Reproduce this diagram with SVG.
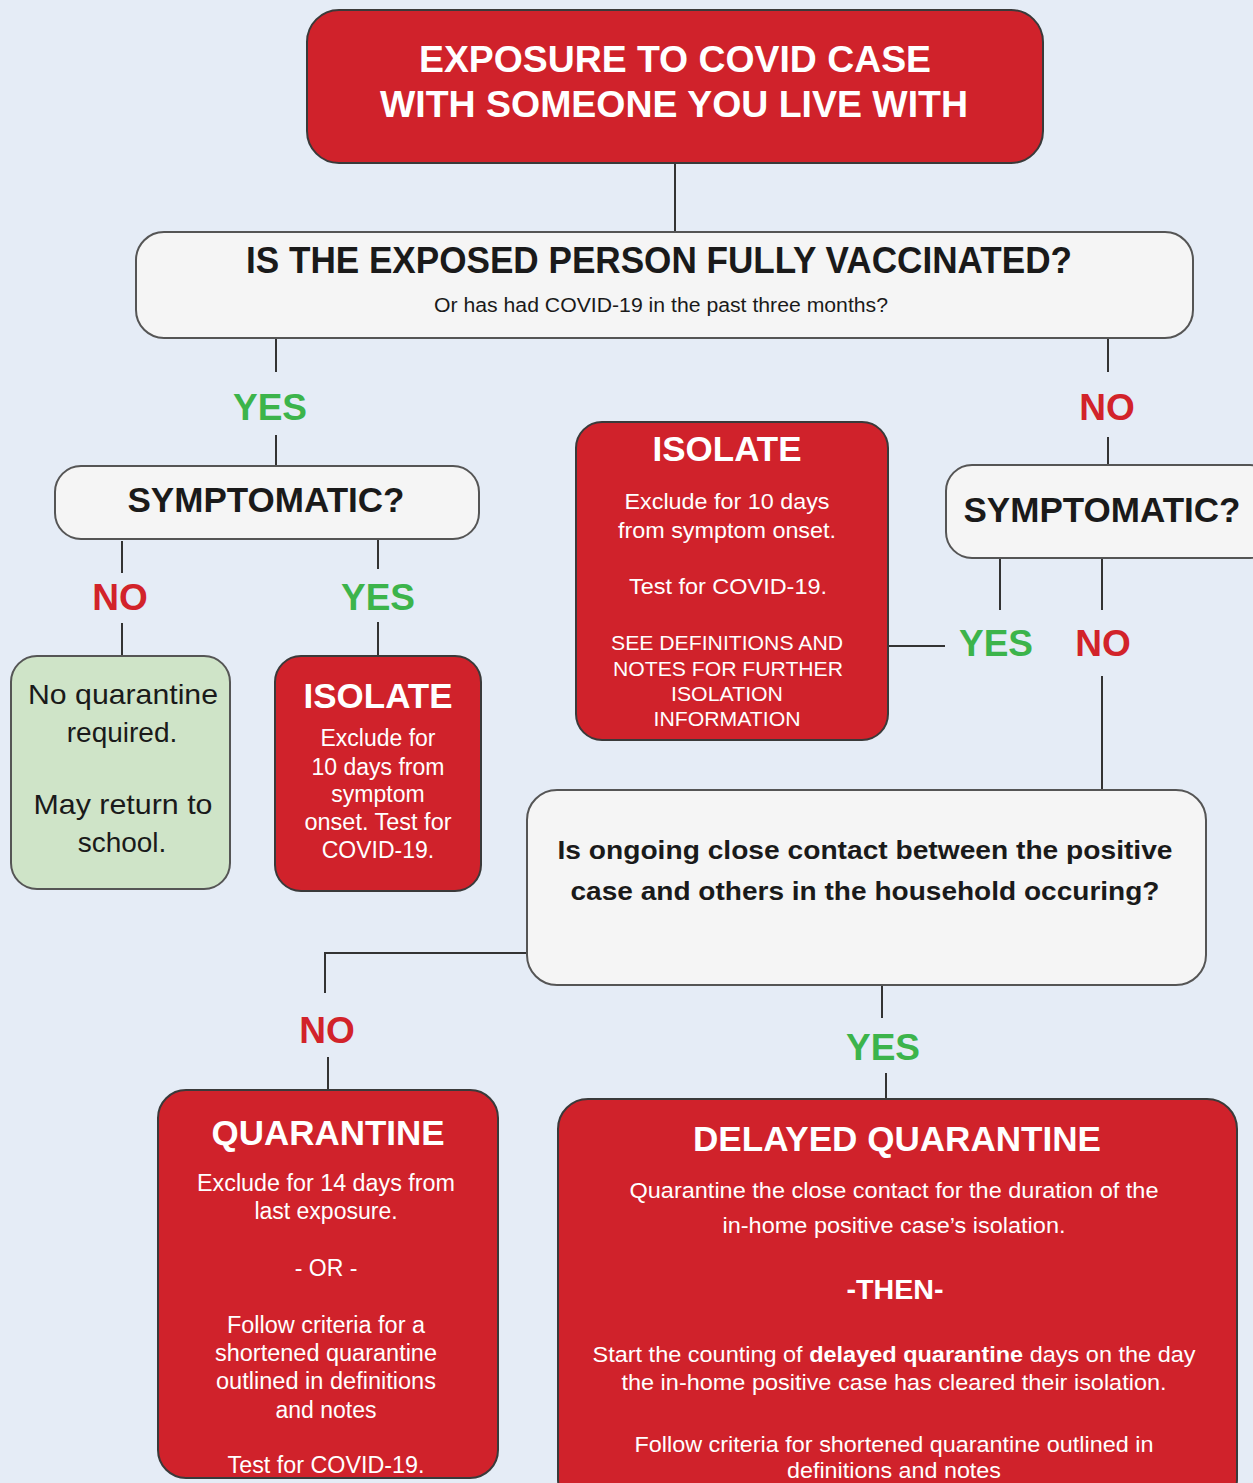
<svg xmlns="http://www.w3.org/2000/svg" width="1253" height="1483" viewBox="0 0 1253 1483">
<defs>
<style>
.red{fill:#d0222b;stroke:#3a3a3a;stroke-width:2}
.wbox{fill:#f5f5f5;stroke:#555;stroke-width:2}
.gbox{fill:#cfe4c8;stroke:#555;stroke-width:2}
.conn{stroke:#333;stroke-width:2;fill:none}
text{font-family:"Liberation Sans",Arial,sans-serif;text-anchor:middle}
.n{font-family:"Liberation Sans Narrow","Liberation Sans",Arial,sans-serif}
.yes{fill:#3cb44b;font-weight:bold;font-size:37px}
.no{fill:#d2232a;font-weight:bold;font-size:37px}
.w{fill:#fff}
.k{fill:#1a1a1a}
.b{font-weight:bold}
</style>
</defs>
<rect width="1253" height="1483" fill="#e5ecf6"/>

<g id="connectors">
<path class="conn" d="M675 163V232"/>
<path class="conn" d="M276 338V372M276 435V465"/>
<path class="conn" d="M1108 338V372M1108 437V465"/>
<path class="conn" d="M122 541V573M122 623V655"/>
<path class="conn" d="M378 539V569M378 622V655"/>
<path class="conn" d="M888 646H945"/>
<path class="conn" d="M1000 558V610M1102 558V610M1102 676V790"/>
<path class="conn" d="M527 953H325V993M328 1057V1090"/>
<path class="conn" d="M882 985V1018M886 1073V1099"/>
</g>

<g id="labels">
<text class="yes" x="270" y="420">YES</text>
<text class="no" x="1107" y="420">NO</text>
<text class="no" x="120" y="610">NO</text>
<text class="yes" x="378" y="610">YES</text>
<text class="yes" x="996" y="656">YES</text>
<text class="no" x="1103" y="656">NO</text>
<text class="no" x="327" y="1043">NO</text>
<text class="yes" x="883" y="1060">YES</text>
</g>

<g id="exposure">
<rect class="red" x="307" y="10" width="736" height="153" rx="32"/>
<text class="w b n" x="675" y="72" font-size="36" textLength="512" lengthAdjust="spacingAndGlyphs">EXPOSURE TO COVID CASE</text>
<text class="w b n" x="674" y="117" font-size="36" textLength="588" lengthAdjust="spacingAndGlyphs">WITH SOMEONE YOU LIVE WITH</text>
</g>

<g id="vaccinated">
<rect class="wbox" x="136" y="232" width="1057" height="106" rx="28"/>
<text class="k b n" x="659" y="273" font-size="36" textLength="826" lengthAdjust="spacingAndGlyphs">IS THE EXPOSED PERSON FULLY VACCINATED?</text>
<text class="k n" x="661" y="312" font-size="20" textLength="454" lengthAdjust="spacingAndGlyphs">Or has had COVID-19 in the past three months?</text>
</g>

<g id="symptomatic-left">
<rect class="wbox" x="55" y="466" width="424" height="73" rx="26"/>
<text class="k b" x="266" y="512" font-size="35" textLength="277" lengthAdjust="spacingAndGlyphs">SYMPTOMATIC?</text>
</g>

<g id="no-quarantine">
<rect class="gbox" x="11" y="656" width="219" height="233" rx="26"/>
<text class="k" x="123" y="704" font-size="28" textLength="190" lengthAdjust="spacingAndGlyphs">No quarantine</text>
<text class="k" x="122" y="742" font-size="28">required.</text>
<text class="k" x="123" y="814" font-size="28" textLength="179" lengthAdjust="spacingAndGlyphs">May return to</text>
<text class="k" x="122" y="852" font-size="28">school.</text>
</g>

<g id="isolate-left">
<rect class="red" x="275" y="656" width="206" height="235" rx="26"/>
<text class="w b" x="378" y="708" font-size="35" textLength="149" lengthAdjust="spacingAndGlyphs">ISOLATE</text>
<text class="w" x="378" y="746" font-size="23">Exclude for</text>
<text class="w" x="378" y="775" font-size="23">10 days from</text>
<text class="w" x="378" y="802" font-size="23">symptom</text>
<text class="w" x="378" y="830" font-size="23" textLength="147" lengthAdjust="spacingAndGlyphs">onset. Test for</text>
<text class="w" x="378" y="858" font-size="23">COVID-19.</text>
</g>

<g id="isolate-center">
<rect class="red" x="576" y="422" width="312" height="318" rx="26"/>
<text class="w b n" x="727" y="461" font-size="35" textLength="149" lengthAdjust="spacingAndGlyphs">ISOLATE</text>
<text class="w n" x="727" y="509" font-size="22" textLength="205" lengthAdjust="spacingAndGlyphs">Exclude for 10 days</text>
<text class="w n" x="727" y="538" font-size="22" textLength="218" lengthAdjust="spacingAndGlyphs">from symptom onset.</text>
<text class="w n" x="728" y="594" font-size="22" textLength="198" lengthAdjust="spacingAndGlyphs">Test for COVID-19.</text>
<text class="w n" x="727" y="650" font-size="21" textLength="232" lengthAdjust="spacingAndGlyphs">SEE DEFINITIONS AND</text>
<text class="w n" x="728" y="676" font-size="21" textLength="230" lengthAdjust="spacingAndGlyphs">NOTES FOR FURTHER</text>
<text class="w n" x="727" y="701" font-size="21" textLength="112" lengthAdjust="spacingAndGlyphs">ISOLATION</text>
<text class="w n" x="727" y="726" font-size="21" textLength="147" lengthAdjust="spacingAndGlyphs">INFORMATION</text>
</g>

<g id="symptomatic-right">
<rect class="wbox" x="946" y="465" width="330" height="93" rx="26"/>
<text class="k b" x="1102" y="522" font-size="35" textLength="277" lengthAdjust="spacingAndGlyphs">SYMPTOMATIC?</text>
</g>

<g id="ongoing-contact">
<rect class="wbox" x="527" y="790" width="679" height="195" rx="30"/>
<text class="k b n" x="865" y="859" font-size="26" textLength="615" lengthAdjust="spacingAndGlyphs">Is ongoing close contact between the positive</text>
<text class="k b n" x="865" y="900" font-size="26" textLength="589" lengthAdjust="spacingAndGlyphs">case and others in the household occuring?</text>
</g>

<g id="quarantine">
<rect class="red" x="158" y="1090" width="340" height="388" rx="28"/>
<text class="w b" x="328" y="1145" font-size="35" textLength="233" lengthAdjust="spacingAndGlyphs">QUARANTINE</text>
<text class="w" x="326" y="1191" font-size="23" textLength="258" lengthAdjust="spacingAndGlyphs">Exclude for 14 days from</text>
<text class="w" x="326" y="1219" font-size="23">last exposure.</text>
<text class="w" x="326" y="1276" font-size="23">- OR -</text>
<text class="w" x="326" y="1333" font-size="23" textLength="198" lengthAdjust="spacingAndGlyphs">Follow criteria for a</text>
<text class="w" x="326" y="1361" font-size="23" textLength="222" lengthAdjust="spacingAndGlyphs">shortened quarantine</text>
<text class="w" x="326" y="1389" font-size="23" textLength="220" lengthAdjust="spacingAndGlyphs">outlined in definitions</text>
<text class="w" x="326" y="1418" font-size="23">and notes</text>
<text class="w" x="326" y="1473" font-size="23" textLength="197" lengthAdjust="spacingAndGlyphs">Test for COVID-19.</text>
</g>

<g id="delayed-quarantine">
<rect class="red" x="558" y="1099" width="679" height="410" rx="30"/>
<text class="w b n" x="897" y="1151" font-size="35" textLength="408" lengthAdjust="spacingAndGlyphs">DELAYED QUARANTINE</text>
<text class="w n" x="894" y="1198" font-size="22" textLength="529" lengthAdjust="spacingAndGlyphs">Quarantine the close contact for the duration of the</text>
<text class="w n" x="894" y="1233" font-size="22" textLength="343" lengthAdjust="spacingAndGlyphs">in-home positive case’s isolation.</text>
<text class="w b n" x="895" y="1299" font-size="27" textLength="97" lengthAdjust="spacingAndGlyphs">-THEN-</text>
<text class="w n" x="894" y="1362" font-size="22" textLength="603" lengthAdjust="spacingAndGlyphs">Start the counting of <tspan class="b">delayed quarantine</tspan> days on the day</text>
<text class="w n" x="894" y="1390" font-size="22" textLength="545" lengthAdjust="spacingAndGlyphs">the in-home positive case has cleared their isolation.</text>
<text class="w n" x="894" y="1452" font-size="22" textLength="519" lengthAdjust="spacingAndGlyphs">Follow criteria for shortened quarantine outlined in</text>
<text class="w n" x="894" y="1478" font-size="22" textLength="214" lengthAdjust="spacingAndGlyphs">definitions and notes</text>
</g>
</svg>
